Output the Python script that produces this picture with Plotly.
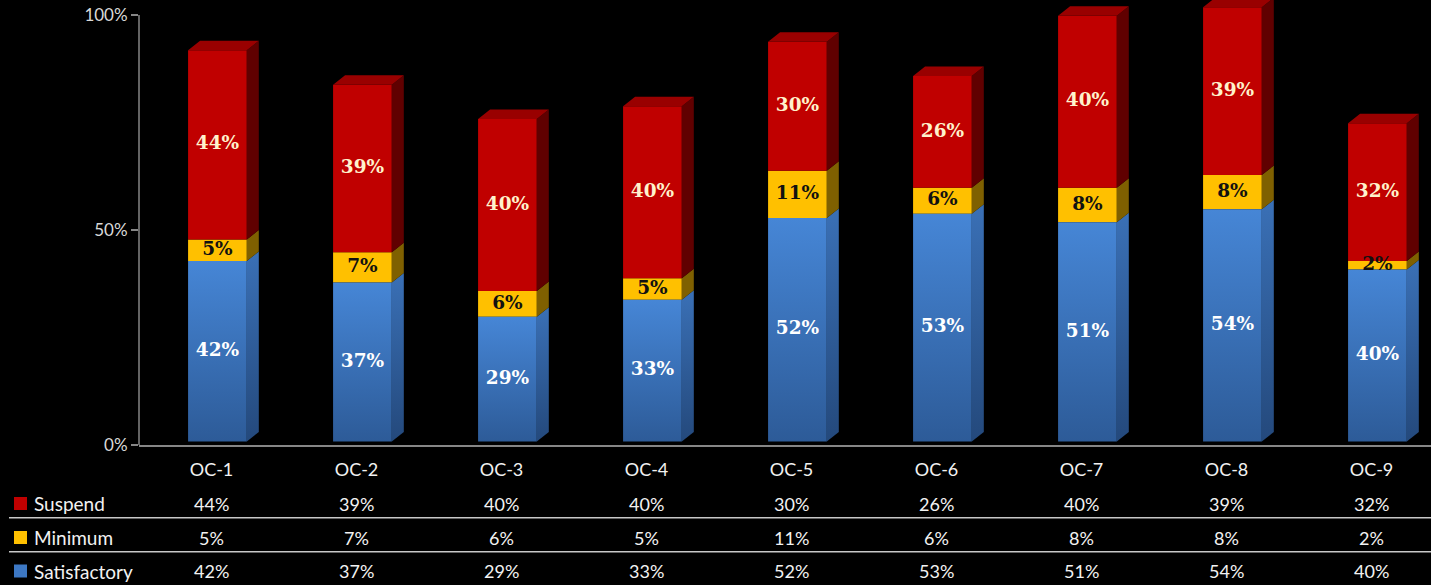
import plotly.graph_objects as go

# ---- data ----
categories = ["OC-1", "OC-2", "OC-3", "OC-4", "OC-5", "OC-6", "OC-7", "OC-8", "OC-9"]
satisfactory = [42, 37, 29, 33, 52, 53, 51, 54, 40]
minimum = [5, 7, 6, 5, 11, 6, 8, 8, 2]
suspend = [44, 39, 40, 40, 30, 26, 40, 39, 32]
series_names = ["Suspend", "Minimum", "Satisfactory"]
y_ticks = [0, 50, 100]
y_tick_text = ["0%", "50%", "100%"]

# ---- style ----
W, H = 1431, 585
ML, MT, MB = 139, 0, 140
PLOT_H = H - MT - MB          # 445
PX_PER_PCT = 4.3
Y_MAX = PLOT_H / PX_PER_PCT
FRONT_SHIFT = 0.8             # 3D front plane sits slightly above the floor
CAT_PX = 145.0
X_MAX = (W - ML) / CAT_PX - 0.5

BAR_W = 0.405
BAR_OFF = -BAR_W / 2 + 0.041
DX = 12 / CAT_PX               # 3D depth in x units
DY = 9.5 / PX_PER_PCT          # 3D depth in y units

colors = {
    "Satisfactory": dict(front=["#2d5b98", "#4686d6"], side=["#24497c", "#3a70b6"],
                         legend="#3d78c4", text="#ffffff"),
    "Minimum": dict(front="#ffc000", side="#7f6000", legend="#ffc000", text="#111111"),
    "Suspend": dict(front="#c00000", side="#600000", top="#990000", legend="#c00000",
                    text="#fff2cc"),
}
label_font = "DejaVu Serif"
ui_font = "Lato"
txt_col = "#f2f2f2"

fig = go.Figure()
stack = [("Satisfactory", satisfactory), ("Minimum", minimum), ("Suspend", suspend)]
xs = list(range(len(categories)))

# cumulative bases
base = [0] * len(categories)
bases = {}
for name, vals in stack:
    bases[name] = list(base)
    base = [b + v for b, v in zip(base, vals)]
totals = base

# front faces: solid series as stacked bars, gradient series as filled polygons
for name, vals in stack:
    c = colors[name]
    if isinstance(c["front"], str):
        fig.add_trace(go.Bar(
            x=xs, y=vals, base=bases[name], name=name, yaxis="y2",
            width=BAR_W, offset=BAR_OFF,
            marker=dict(color=c["front"], line=dict(width=0)),
            hoverinfo="skip", showlegend=False,
        ))
    else:
        for i, (b, v) in enumerate(zip(bases[name], vals)):
            x0 = i + BAR_OFF
            x1 = x0 + BAR_W
            fig.add_trace(go.Scatter(
                x=[x0, x1, x1, x0, x0], y=[b, b, b + v, b + v, b], yaxis="y2",
                mode="lines", fill="toself", line=dict(width=0, color=c["front"][0]),
                fillgradient=dict(type="vertical",
                                  colorscale=[[0, c["front"][0]], [1, c["front"][1]]]),
                hoverinfo="skip", showlegend=False, name=name))

# side faces
for name, vals in stack:
    c = colors[name]
    for i, (b, v) in enumerate(zip(bases[name], vals)):
        x1 = i + BAR_OFF + BAR_W
        t = b + v
        kw = dict(x=[x1, x1 + DX, x1 + DX, x1, x1], y=[b, b + DY, t + DY, t, b],
                  yaxis="y2", mode="lines", fill="toself",
                  hoverinfo="skip", showlegend=False)
        if isinstance(c["side"], str):
            fig.add_trace(go.Scatter(**kw, fillcolor=c["side"],
                                     line=dict(width=0, color=c["side"])))
        else:
            fig.add_trace(go.Scatter(**kw, line=dict(width=0, color=c["side"][0]),
                                     fillgradient=dict(type="vertical",
                                                       colorscale=[[0, c["side"][0]],
                                                                   [1, c["side"][1]]])))

# top faces (on topmost segment)
tx, ty = [], []
for i, t in enumerate(totals):
    x0 = i + BAR_OFF
    x1 = x0 + BAR_W
    tx += [x0, x0 + DX, x1 + DX, x1, x0, None]
    ty += [t, t + DY, t + DY, t, t, None]
fig.add_trace(go.Scatter(x=tx, y=ty, yaxis="y2", mode="lines", fill="toself",
                         fillcolor=colors["Suspend"]["top"],
                         line=dict(width=0, color=colors["Suspend"]["top"]),
                         hoverinfo="skip", showlegend=False))

# value labels centred on each front face
for name, vals in stack:
    fig.add_trace(go.Scatter(
        x=[i + BAR_OFF + BAR_W / 2 for i in xs],
        y=[b + v / 2 for b, v in zip(bases[name], vals)],
        yaxis="y2", mode="text", text=[f"{v}%" for v in vals],
        textposition="middle center", cliponaxis=False,
        textfont=dict(family=label_font, size=18.5, color=colors[name]["text"], weight="bold"),
        hoverinfo="skip", showlegend=False))


def py(p):
    return (PLOT_H + MT - p) / PLOT_H


def px(p):
    return (p - ML) / (W - ML)


# data table
rows = [("Suspend", suspend, 503.5), ("Minimum", minimum, 537.5), ("Satisfactory", satisfactory, 571)]
annotations = []
shapes = []
for name, vals, yc in rows:
    for i, v in enumerate(vals):
        annotations.append(dict(x=i, y=py(yc), xref="x", yref="paper", text=f"{v}%",
                                showarrow=False, xanchor="center", yanchor="middle",
                                font=dict(family=ui_font, size=18, color=txt_col)))
    annotations.append(dict(x=px(32), y=py(yc), xref="paper", yref="paper", text=name,
                            showarrow=False, xanchor="left", yanchor="middle",
                            font=dict(family=ui_font, size=19, color=txt_col)))
    shapes.append(dict(type="rect", xref="paper", yref="paper",
                       x0=px(14), x1=px(27), y0=py(yc - 6.5), y1=py(yc + 6.5),
                       fillcolor=colors[name]["legend"], line=dict(width=0)))

for yl in (517.7, 551.7):
    shapes.append(dict(type="line", xref="paper", yref="paper", x0=px(9), x1=1.0,
                       y0=py(yl), y1=py(yl), line=dict(color="#c8c8c8", width=1.5)))

# y axis line up to 100%
shapes.append(dict(type="line", xref="paper", yref="y", x0=0, x1=0, y0=0, y1=100,
                   line=dict(color="#868686", width=1.5)))

fig.update_layout(
    width=W, height=H,
    margin=dict(l=ML, r=0, t=MT, b=MB),
    paper_bgcolor="#000000", plot_bgcolor="#000000",
    barmode="overlay",
    showlegend=False,
    annotations=annotations,
    shapes=shapes,
    xaxis=dict(range=[-0.5, X_MAX], tickvals=xs, ticktext=categories,
               showgrid=False, zeroline=False, showline=True, linecolor="#868686",
               linewidth=1.5, ticks="", ticklabelstandoff=8,
               tickfont=dict(family=ui_font, size=18, color=txt_col), fixedrange=True),
    yaxis=dict(range=[0, Y_MAX], tickvals=y_ticks, ticktext=y_tick_text,
               showgrid=False, zeroline=False, showline=False,
               ticks="outside", ticklen=7, tickwidth=1.5, tickcolor="#868686",
               tickfont=dict(family=ui_font, size=17, color="#d9d9d9"), fixedrange=True),
    yaxis2=dict(range=[-FRONT_SHIFT, Y_MAX - FRONT_SHIFT], overlaying="y", visible=False,
                fixedrange=True),
)

fig.write_html(
    "out.html",
    config={"displayModeBar": False},
    post_script="document.body.style.margin='0';document.body.style.background='#000';",
)
